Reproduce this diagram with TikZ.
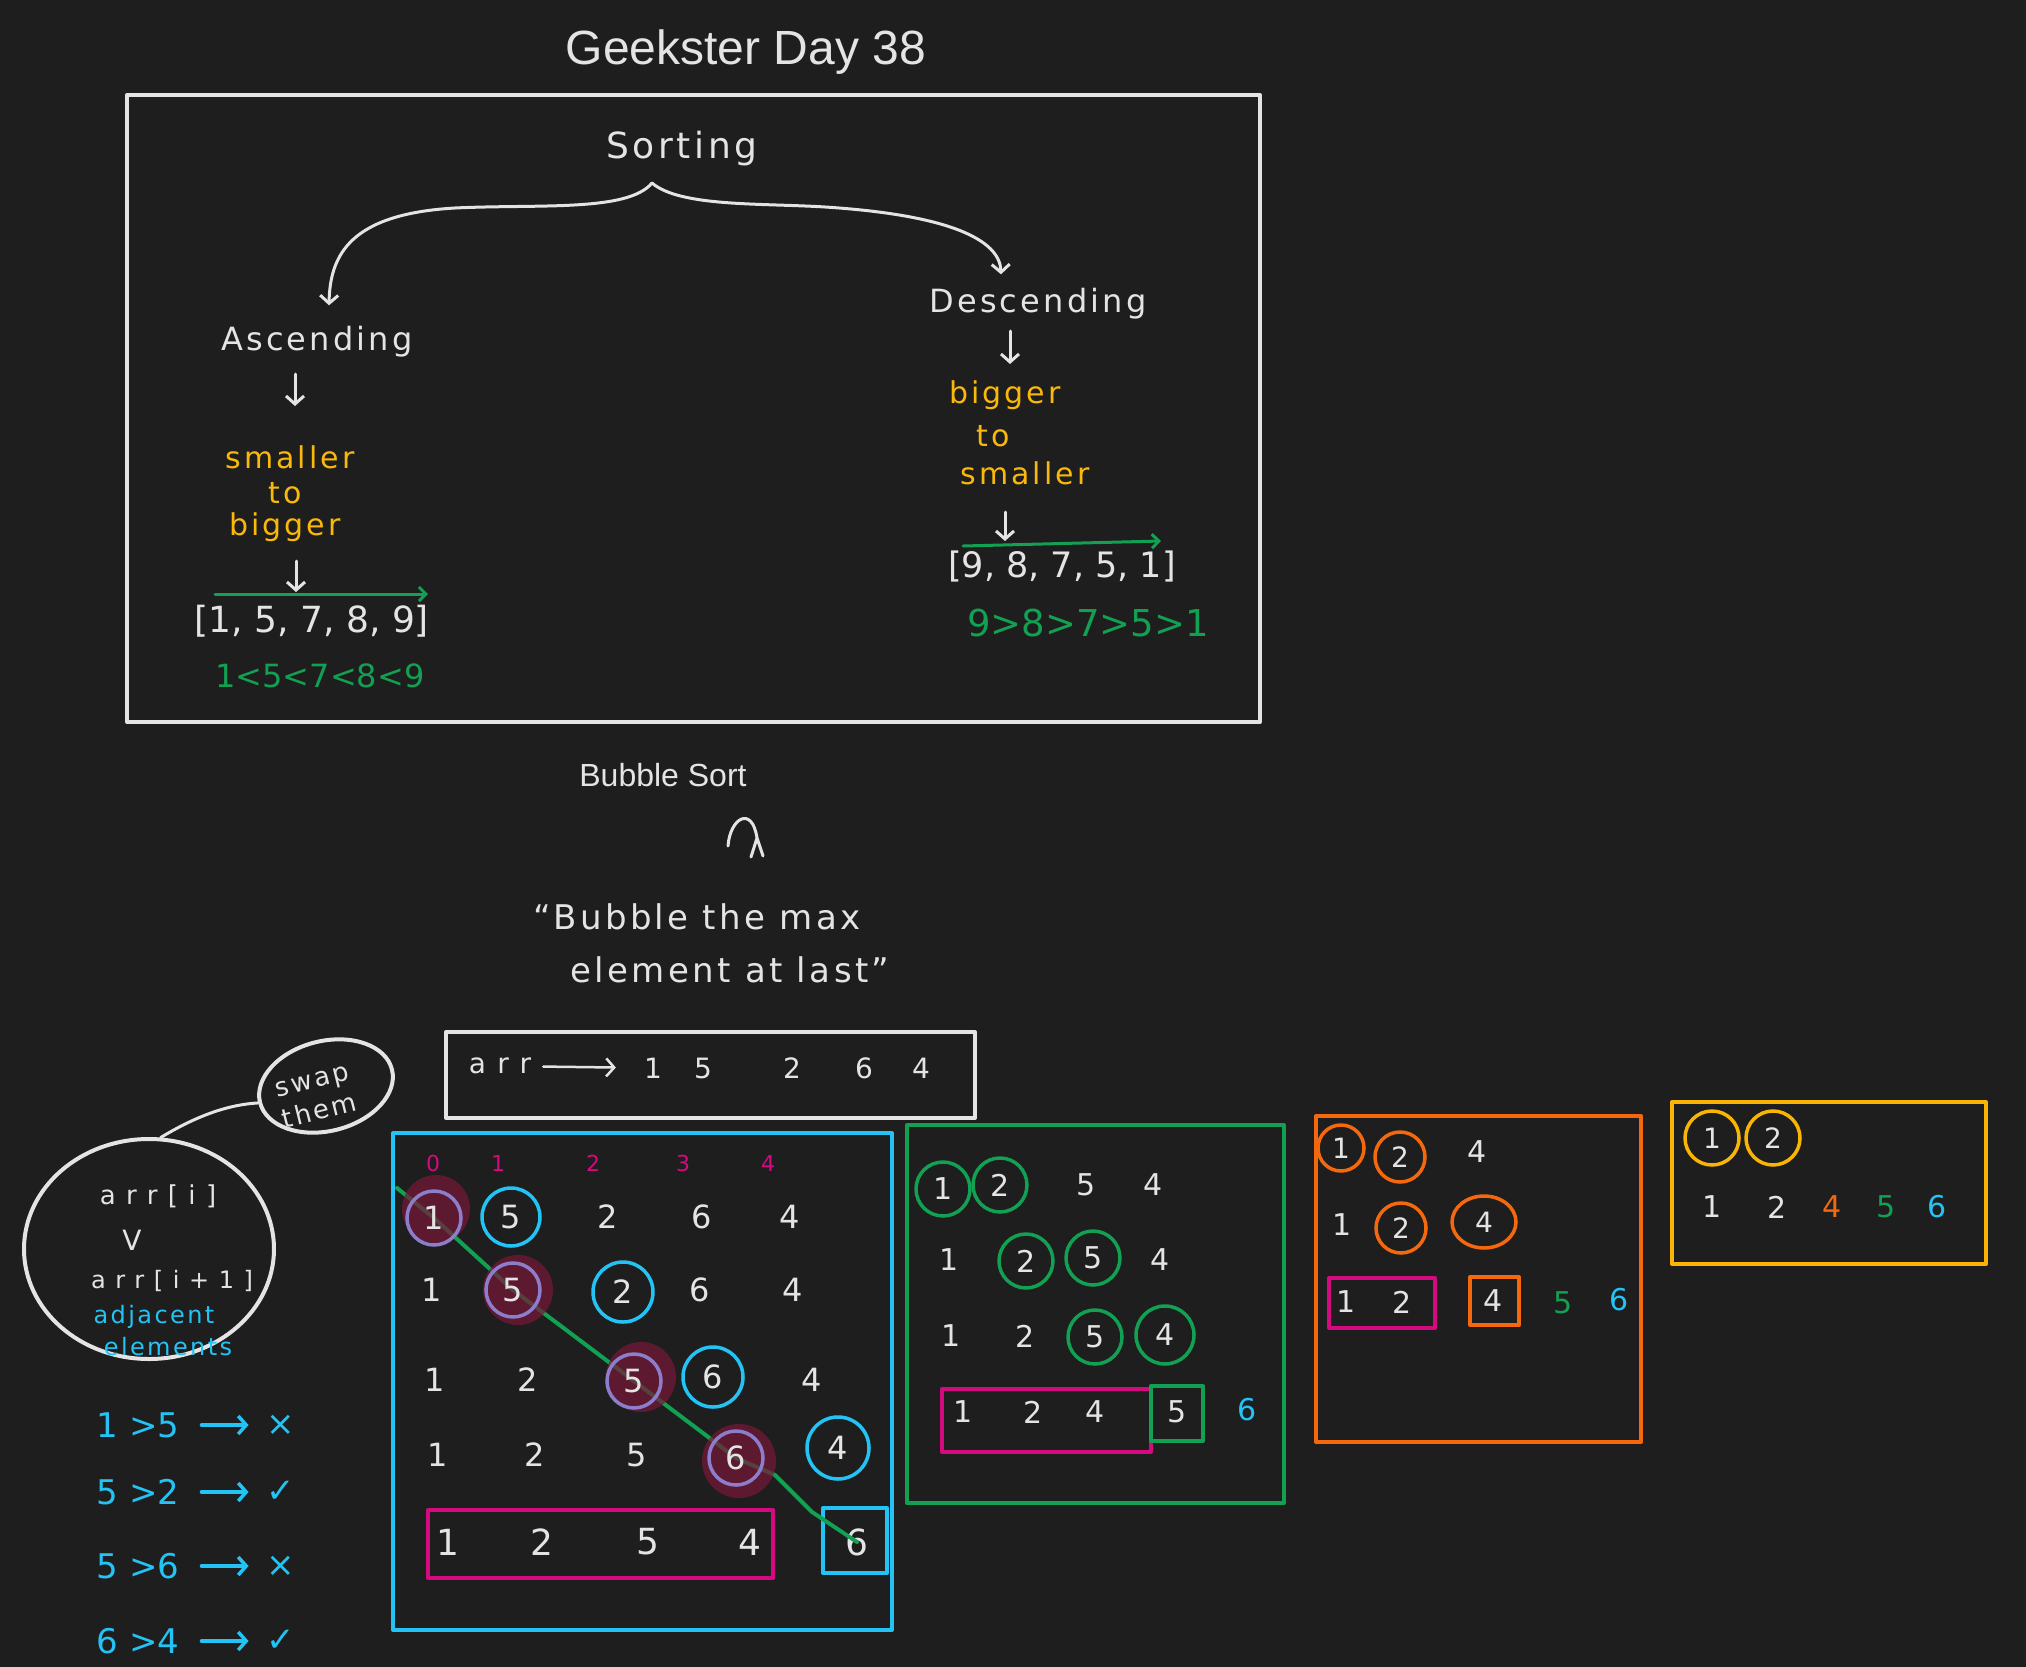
\documentclass[tikz,border=0pt]{standalone}
\usepackage{fontspec}
\setmainfont{DejaVu Sans}
\newfontfamily\handfont{DejaVu Sans}[LetterSpace=10]
\newfontfamily\widefont{DejaVu Sans}[LetterSpace=40]
\newfontfamily\titlefont{Liberation Sans}
\usetikzlibrary{arrows.meta,shapes.geometric}

\definecolor{bg}{RGB}{30,30,30}
\definecolor{chalk}{RGB}{228,228,228}
\definecolor{ylw}{RGB}{250,185,10}
\definecolor{grn}{RGB}{18,160,82}
\definecolor{cyn}{RGB}{36,195,245}
\definecolor{mag}{RGB}{214,10,128}
\definecolor{org}{RGB}{245,104,14}
\definecolor{gold}{RGB}{250,180,5}
\definecolor{wine}{RGB}{120,24,56}
\definecolor{lav}{RGB}{140,125,205}

\pgfdeclarelayer{under}
\pgfdeclarelayer{over}
\pgfdeclarelayer{top}
\pgfsetlayers{under,main,over,top}

\tikzset{
  txt/.style={inner sep=0pt, text=chalk, font=\fontsize{#1}{#1}\selectfont},
  txt/.default=30,
  hand/.style={inner sep=0pt, text=chalk, font=\handfont\fontsize{#1}{#1}\selectfont},
  wide/.style={inner sep=0pt, text=chalk, font=\widefont\fontsize{#1}{#1}\selectfont},
  ring/.style={circle, draw=#1, line width=3.5pt, minimum size=54pt, inner sep=0pt},
  outline/.style={draw=#1, line width=4pt},
  warr/.style={chalk, line width=3pt, -{Straight Barb[length=8pt,width=18pt]}},
  garr/.style={grn, line width=3pt, -{Straight Barb[length=7pt,width=14pt]}},
  carr/.style={cyn, line width=3.5pt, -{Straight Barb[length=8pt,width=18pt]}},
  gline/.style={grn, line width=4pt},
  blob/.style={wine, opacity=.7},
}

\begin{document}
\begin{tikzpicture}[x=1pt,y=-1pt,line cap=round,line join=round]
\useasboundingbox (0,0) rectangle (2026,1667);
\begin{pgfonlayer}{under}
  \fill[bg] (0,0) rectangle (2026,1667);
\end{pgfonlayer}

% ---- sorting overview
\node[txt, font=\titlefont\fontsize{48}{48}\selectfont] (title) at (746,52) {Geekster Day 38};
\draw[outline=chalk] (127,95) rectangle (1260,722);

\node[hand=36] (sorting) at (682,149) {Sorting};
\coordinate (fork) at (652,183);
\node[hand=32] (asc) at (317,342) {Ascending};
\node[hand=32] (desc) at (1038,304) {Descending};
\draw[warr] (fork) .. controls (628,212) and (540,204) .. (455,208)
  .. controls (350,214) and (330,255) .. ([xshift=12pt,yshift=21pt]asc.north);
\draw[warr] (fork) .. controls (680,207) and (760,203) .. (825,207)
  .. controls (950,215) and (1000,240) .. ([xshift=-37pt,yshift=14pt]desc.north);

% ascending branch
\node[hand=30, text=ylw] (small1) at (290,457) {smaller};
\node[hand=30, text=ylw] (to1) at (285,493) {to};
\node[hand=30, text=ylw] (big1) at (285,527) {bigger};
\node[txt=36] (asclist) at (312,621) {[1, 5, 7, 8, 9]};
\node[txt=32, text=grn] (ascrel) at (320,676) {1<5<7<8<9};
\coordinate (a1) at (295,374);
\coordinate (a2) at (296,561);
\coordinate (g1) at (215,594);
\draw[warr] (a1) -- +(0,32);
\draw[warr] (a2) -- +(0,31);
\draw[garr] (g1) -- +(213,0);

% descending branch
\node[hand=30, text=ylw] (big2) at (1005,395) {bigger};
\node[hand=30, text=ylw] (to2) at (993,436) {to};
\node[hand=30, text=ylw] (small2) at (1025,473) {smaller};
\node[txt=35] (desclist) at (1062,567) {[9, 8, 7, 5, 1]};
\node[txt=37, text=grn] (descrel) at (1088,623) {9>8>7>5>1};
\coordinate (b1) at (1010,331);
\coordinate (b2) at (1005,512);
\coordinate (g2) at (963,546);
\draw[warr] (b1) -- +(0,33);
\draw[warr] (b2) -- +(0,29);
\draw[garr] (g2) -- +(198,-5);

% ---- bubble sort
\node[txt, font=\titlefont\fontsize{32}{32}\selectfont] (bubble) at (663,775) {Bubble Sort};
\draw[chalk, line width=3pt] (728,846) .. controls (730,818) and (752,805) .. (757,838)
  (751,857) -- (757,838) -- (763,856);
\node[hand=34] (quote1) at (697,917) {“Bubble the max};
\node[hand=34] (quote2) at (730,970) {element at last”};

\draw[outline=chalk] (446,1032) rectangle (975,1118);
\node[wide=28] (arrlbl) at (500,1066) {arr};
\foreach \v/\x [count=\k] in {1/653,5/703,2/792,6/864,4/921}
  \node[txt=28] (a\k) at (\x,1068) {\v};
\draw[warr, line width=2.5pt, shorten <=12pt, shorten >=28pt] (arrlbl) -- (a1);

% comparison note
\node[ellipse, draw=chalk, line width=4pt, minimum width=250pt, minimum height=220pt] (cmp) at (149,1249) {};
\node[ellipse, draw=chalk, line width=4pt, minimum width=136pt, minimum height=90pt, rotate=14] (swap) at (326,1086) {};
\node[hand=26, rotate=14, align=center, font=\handfont\fontsize{26}{32}\selectfont] (swaptxt) at (316,1097) {swap\\them};
\draw[chalk, line width=3pt] (cmp.84) .. controls +(30,-18) and +(-35,2) .. (swap.west);
\node[wide=26] (ai) at (158,1196) {arr[i]};
\node[txt=28] (vee) at (132,1240) {V};
\node[wide=24] (ai1) at (172,1281) {arr[i+1]};
\node[hand=24, text=cyn] (adj1) at (154,1317) {adjacent};
\node[hand=24, text=cyn] (adj2) at (168,1347) {elements};

\foreach \t/\m/\y [count=\k] in {1 >5/×/1425, 5 >2/✓/1492, 5 >6/×/1566, 6 >4/✓/1641}{
  \node[txt=34, text=cyn] (c\k) at (138,\y) {\t};
  \node[txt=34, text=cyn] (m\k) at (281,\y) {\m};
  \draw[carr, shorten <=22pt, shorten >=18pt] (c\k) -- (m\k);
}

% ---- pass 1
\draw[outline=cyn] (393,1133) rectangle (892,1630);
\foreach \i/\x in {0/433,1/498,2/593,3/683,4/768}
  \node[txt=22, text=mag] (idx\i) at (\x,1163) {\i};

\begin{pgfonlayer}{top}
  \node[ring=lav, txt=32] (h1) at (434,1218) {1};
  \node[ring=lav, txt=32] (h2) at (513,1290) {5};
  \node[ring=lav, txt=32] (h3) at (634,1381) {5};
  \node[ring=lav, txt=32] (h4) at (736,1458) {6};
\end{pgfonlayer}
\begin{pgfonlayer}{over}
  \fill[blob] ([shift={(2,-9)}]h1.center) circle[radius=34];
  \fill[blob] ([shift={(5,0)}]h2.center) circle[radius=35];
  \fill[blob] ([shift={(7,-4)}]h3.center) circle[radius=35];
  \fill[blob] ([shift={(3,3)}]h4.center) circle[radius=37];
\end{pgfonlayer}

\node[ring=cyn, txt=32, minimum size=58pt] (r1c2) at (511,1217) {5};
\node[txt=32] (r1c3) at (608,1217) {2};
\node[txt=32] (r1c4) at (702,1217) {6};
\node[txt=32] (r1c5) at (790,1217) {4};
\node[txt=32] (r2c1) at (432,1290) {1};
\node[ring=cyn, txt=32, minimum size=60pt] (r2c3) at (623,1292) {2};
\node[txt=32] (r2c4) at (700,1290) {6};
\node[txt=32] (r2c5) at (793,1290) {4};
\node[txt=32] (r3c1) at (435,1380) {1};
\node[txt=32] (r3c2) at (528,1380) {2};
\node[ring=cyn, txt=32, minimum size=60pt] (r3c4) at (713,1377) {6};
\node[txt=32] (r3c5) at (812,1380) {4};
\node[txt=32] (r4c1) at (438,1455) {1};
\node[txt=32] (r4c2) at (535,1455) {2};
\node[txt=32] (r4c3) at (637,1455) {5};
\node[ring=cyn, txt=32, minimum size=62pt] (r4c5) at (838,1448) {4};

\draw[outline=mag] (428,1510) rectangle (773,1578);
\foreach \v/\x [count=\k] in {1/448,2/542,5/648,4/750}
  \node[txt=36] (p\k) at (\x,1542) {\v};
\draw[outline=cyn] (823,1508) rectangle (887,1573);
\node[txt=36] (last6) at (857,1542) {6};

\coordinate (gstart) at (397,1188);
\coordinate (bend1) at (775,1475);
\coordinate (bend2) at (812,1512);
\draw[gline] (gstart) -- (h1.center) -- (h2.center) -- (h3.center) -- (h4.center)
  -- (bend1) -- (bend2) -- (last6.center);

% ---- pass 2
\draw[outline=grn] (907,1125) rectangle (1284,1503);
\node[ring=grn, txt=30] (s1c1) at (943,1189) {1};
\node[ring=grn, txt=30] (s1c2) at (1000,1185) {2};
\node[txt=30] (s1c3) at (1086,1185) {5};
\node[txt=30] (s1c4) at (1153,1185) {4};
\node[txt=30] (s2c1) at (949,1260) {1};
\node[ring=grn, txt=30] (s2c2) at (1026,1261) {2};
\node[ring=grn, txt=30] (s2c3) at (1093,1258) {5};
\node[txt=30] (s2c4) at (1160,1260) {4};
\node[txt=30] (s3c1) at (951,1336) {1};
\node[txt=30] (s3c2) at (1025,1336) {2};
\node[ring=grn, txt=30] (s3c3) at (1095,1337) {5};
\node[ring=grn, txt=30, minimum size=58pt] (s3c4) at (1165,1335) {4};
\draw[outline=mag] (942,1389) rectangle (1151,1452);
\draw[outline=grn] (1151,1386) rectangle (1203,1441);
\node[txt=30] (s4c1) at (963,1412) {1};
\node[txt=30] (s4c2) at (1033,1412) {2};
\node[txt=30] (s4c3) at (1095,1412) {4};
\node[txt=30] (s4c4) at (1177,1412) {5};
\node[txt=30, text=cyn] (s4c5) at (1247,1410) {6};

% ---- pass 3
\draw[outline=org] (1316,1116) rectangle (1641,1442);
\node[ring=org, txt=28, minimum size=46pt] (t1c1) at (1341,1148) {1};
\node[ring=org, txt=28, minimum size=50pt] (t1c2) at (1400,1157) {2};
\node[txt=30] (t1c3) at (1477,1152) {4};
\node[txt=30] (t2c1) at (1342,1225) {1};
\node[ring=org, txt=28, minimum size=50pt] (t2c2) at (1401,1228) {2};
\node[ellipse, draw=org, line width=3.5pt, minimum width=64pt, minimum height=52pt, inner sep=0pt, txt=28] (t2c3) at (1484,1222) {4};
\draw[outline=mag] (1329,1278) rectangle (1435,1328);
\draw[outline=org] (1470,1277) rectangle (1519,1325);
\node[txt=30] (t3c1) at (1346,1302) {1};
\node[txt=30] (t3c2) at (1402,1302) {2};
\node[txt=30] (t3c3) at (1493,1301) {4};
\node[txt=30, text=grn] (t3c4) at (1563,1303) {5};
\node[txt=30, text=cyn] (t3c5) at (1619,1300) {6};

% ---- pass 4
\draw[outline=gold] (1672,1102) rectangle (1986,1264);
\node[ring=gold, txt=28] (u1c1) at (1712,1138) {1};
\node[ring=gold, txt=28] (u1c2) at (1773,1138) {2};
\node[txt=30] (u2c1) at (1712,1207) {1};
\node[txt=30] (u2c2) at (1777,1207) {2};
\node[txt=30, text=org] (u2c3) at (1832,1207) {4};
\node[txt=30, text=grn] (u2c4) at (1886,1207) {5};
\node[txt=30, text=cyn] (u2c5) at (1937,1207) {6};
\end{tikzpicture}
\end{document}
